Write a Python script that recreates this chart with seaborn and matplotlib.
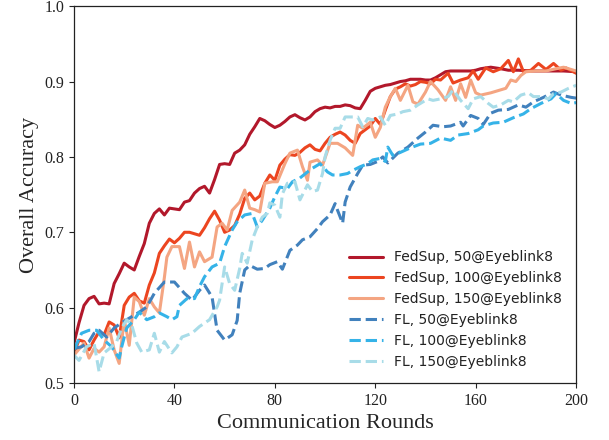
import matplotlib
matplotlib.use("Agg")
import matplotlib.pyplot as plt
import seaborn as sns
import pandas as pd

# values (round, accuracy)
fs50_rounds = [0, 2, 4, 6, 8, 10, 12, 14, 16, 18, 20, 22, 24, 26, 28, 30, 32, 34, 36, 38,
               40, 42, 44, 46, 48, 50, 52, 54, 56, 58, 60, 62, 64, 66, 68, 70, 72, 74, 76, 78,
               80, 82, 84, 86, 88, 90, 92, 94, 96, 98, 100, 102, 104, 106, 108, 110, 112, 114, 116, 118,
               120, 122, 124, 126, 128, 130, 132, 134, 136, 138, 140, 142, 144, 146, 148, 150, 155, 158, 160, 162,
               166, 170, 173, 177, 182, 188, 195, 200]
fs50_acc = [0.553, 0.580, 0.603, 0.612, 0.615, 0.605, 0.606, 0.605, 0.632, 0.645, 0.659, 0.654, 0.650, 0.668, 0.685, 0.712, 0.725, 0.731, 0.723, 0.732,
            0.731, 0.730, 0.740, 0.742, 0.752, 0.758, 0.761, 0.752, 0.770, 0.790, 0.791, 0.790, 0.805, 0.809, 0.816, 0.830, 0.840, 0.851, 0.848, 0.843,
            0.839, 0.842, 0.847, 0.853, 0.856, 0.852, 0.849, 0.853, 0.860, 0.864, 0.866, 0.865, 0.867, 0.867, 0.869, 0.868, 0.865, 0.864, 0.875, 0.887,
            0.891, 0.893, 0.895, 0.896, 0.898, 0.900, 0.901, 0.903, 0.903, 0.903, 0.902, 0.902, 0.905, 0.909, 0.913, 0.914, 0.914, 0.914, 0.915, 0.917,
            0.919, 0.917, 0.915, 0.915, 0.914, 0.914, 0.914, 0.913]

fs100_rounds = [0, 2, 4, 6, 8, 10, 12, 14, 16, 18, 20, 22, 24, 26, 28, 30, 32, 34, 36, 38,
                40, 42, 44, 46, 48, 50, 52, 54, 56, 58, 60, 62, 64, 66, 68, 70, 72, 74, 76, 78,
                80, 82, 84, 86, 88, 90, 92, 94, 96, 98, 100, 102, 104, 106, 108, 110, 112, 114, 116, 118,
                120, 122, 124, 126, 128, 130, 132, 134, 136, 138, 140, 142, 144, 146, 148, 149, 151, 154, 157, 159,
                161, 164, 167, 170, 173, 175, 177, 179, 182, 185, 188, 191, 194, 196, 200]
fs100_acc = [0.540, 0.557, 0.555, 0.544, 0.557, 0.568, 0.564, 0.581, 0.577, 0.560, 0.603, 0.614, 0.619, 0.609, 0.606, 0.630, 0.646, 0.672, 0.682, 0.691,
             0.686, 0.692, 0.700, 0.700, 0.698, 0.696, 0.706, 0.718, 0.728, 0.716, 0.700, 0.703, 0.709, 0.724, 0.745, 0.752, 0.743, 0.748, 0.765, 0.776,
             0.769, 0.789, 0.797, 0.803, 0.802, 0.806, 0.812, 0.816, 0.810, 0.808, 0.818, 0.826, 0.830, 0.833, 0.829, 0.822, 0.818, 0.831, 0.836, 0.841,
             0.851, 0.843, 0.862, 0.880, 0.890, 0.893, 0.897, 0.894, 0.896, 0.900, 0.899, 0.897, 0.903, 0.902, 0.908, 0.911, 0.898, 0.902, 0.905, 0.914,
             0.903, 0.918, 0.913, 0.917, 0.928, 0.913, 0.930, 0.913, 0.915, 0.924, 0.916, 0.924, 0.915, 0.918, 0.911]

fs150_rounds = [0, 2, 4, 6, 8, 10, 12, 14, 16, 18, 20, 22, 24, 26, 28, 30, 32, 34, 36, 37,
                39, 42, 44, 46, 48, 50, 52, 55, 57, 59, 61, 63, 66, 68, 70, 72, 74, 76, 79, 81,
                84, 86, 89, 91, 93, 94, 97, 99, 102, 105, 108, 111, 113, 115, 118, 120, 122, 124, 126, 128,
                130, 133, 135, 137, 140, 142, 145, 148, 150, 152, 154, 156, 158, 160, 162, 166, 170, 172, 174, 176,
                178, 180, 184, 188, 192, 195, 199, 200]
fs150_acc = [0.537, 0.545, 0.553, 0.533, 0.546, 0.541, 0.548, 0.573, 0.544, 0.526, 0.584, 0.550, 0.614, 0.608, 0.590, 0.612, 0.601, 0.593, 0.640, 0.667,
             0.681, 0.681, 0.652, 0.687, 0.654, 0.674, 0.661, 0.667, 0.707, 0.712, 0.703, 0.729, 0.740, 0.756, 0.732, 0.730, 0.727, 0.765, 0.767, 0.767,
             0.791, 0.805, 0.809, 0.787, 0.769, 0.793, 0.796, 0.789, 0.818, 0.818, 0.812, 0.802, 0.842, 0.838, 0.846, 0.826, 0.839, 0.866, 0.880, 0.891,
             0.875, 0.895, 0.873, 0.870, 0.886, 0.900, 0.889, 0.875, 0.893, 0.875, 0.897, 0.879, 0.902, 0.885, 0.882, 0.885, 0.889, 0.891, 0.902, 0.900,
             0.908, 0.913, 0.914, 0.914, 0.917, 0.919, 0.915, 0.914]

fl50_rounds = [0, 3, 6, 8, 10, 13, 16, 19, 22, 26, 29, 32, 36, 40, 44, 47, 50, 52, 55, 57,
               60, 63, 65, 66, 68, 70, 73, 76, 78, 81, 83, 86, 89, 91, 94, 97, 99, 102, 104, 105,
               107, 108, 110, 113, 115, 118, 121, 123, 125, 129, 133, 137, 140, 143, 147, 150, 154, 155, 158, 161,
               163, 166, 169, 173, 177, 180, 183, 187, 191, 194, 198, 200]
fl50_acc = [0.546, 0.548, 0.555, 0.566, 0.570, 0.561, 0.573, 0.580, 0.586, 0.594, 0.601, 0.619, 0.634, 0.634, 0.619, 0.610, 0.623, 0.630, 0.614, 0.570,
            0.557, 0.564, 0.583, 0.619, 0.650, 0.656, 0.651, 0.652, 0.657, 0.661, 0.651, 0.676, 0.683, 0.690, 0.694, 0.705, 0.714, 0.723, 0.738, 0.729,
            0.712, 0.740, 0.760, 0.778, 0.789, 0.790, 0.794, 0.800, 0.792, 0.805, 0.813, 0.825, 0.833, 0.842, 0.840, 0.841, 0.846, 0.841, 0.855, 0.851,
            0.843, 0.858, 0.862, 0.863, 0.869, 0.866, 0.873, 0.879, 0.886, 0.882, 0.879, 0.878]

fl100_rounds = [0, 3, 6, 9, 12, 15, 18, 19, 21, 24, 26, 29, 32, 34, 37, 39, 41, 42, 45, 48,
                50, 52, 55, 58, 60, 63, 65, 68, 71, 73, 75, 78, 80, 82, 85, 87, 90, 93, 95, 98,
                101, 103, 106, 109, 111, 114, 117, 119, 122, 124, 125, 127, 130, 134, 138, 142, 146, 150, 153, 157,
                161, 163, 167, 171, 175, 179, 182, 186, 190, 192, 195, 198, 200]
fl100_acc = [0.544, 0.566, 0.570, 0.570, 0.557, 0.548, 0.533, 0.548, 0.573, 0.584, 0.594, 0.584, 0.588, 0.593, 0.588, 0.584, 0.588, 0.603, 0.612, 0.612,
             0.628, 0.641, 0.654, 0.659, 0.681, 0.703, 0.714, 0.723, 0.725, 0.707, 0.716, 0.732, 0.747, 0.760, 0.758, 0.767, 0.772, 0.780, 0.785, 0.791,
             0.780, 0.776, 0.776, 0.778, 0.782, 0.787, 0.791, 0.796, 0.798, 0.794, 0.813, 0.802, 0.806, 0.812, 0.817, 0.818, 0.825, 0.822, 0.829, 0.831,
             0.836, 0.841, 0.845, 0.846, 0.852, 0.857, 0.864, 0.871, 0.877, 0.884, 0.875, 0.871, 0.872]

fl150_rounds = [0, 2, 5, 8, 10, 12, 15, 17, 19, 21, 23, 25, 27, 30, 32, 34, 36, 39, 41, 43,
                47, 50, 54, 57, 58, 60, 62, 64, 66, 67, 69, 71, 73, 75, 77, 78, 80, 82, 83, 85,
                88, 90, 93, 95, 97, 99, 100, 102, 104, 106, 108, 110, 113, 115, 117, 119, 122, 124, 126, 129,
                131, 134, 137, 139, 141, 143, 146, 149, 151, 154, 157, 159, 162, 165, 167, 170, 173, 175, 178, 181,
                183, 186, 189, 191, 194, 197, 200]
fl150_acc = [0.537, 0.530, 0.548, 0.553, 0.515, 0.540, 0.548, 0.555, 0.573, 0.584, 0.577, 0.553, 0.541, 0.544, 0.566, 0.541, 0.555, 0.540, 0.548, 0.561,
             0.566, 0.575, 0.584, 0.601, 0.610, 0.654, 0.632, 0.623, 0.652, 0.672, 0.659, 0.690, 0.707, 0.720, 0.725, 0.739, 0.736, 0.720, 0.751, 0.765,
             0.767, 0.743, 0.763, 0.754, 0.756, 0.778, 0.800, 0.822, 0.838, 0.838, 0.853, 0.853, 0.853, 0.840, 0.851, 0.849, 0.853, 0.842, 0.855, 0.857,
             0.860, 0.862, 0.869, 0.873, 0.877, 0.875, 0.877, 0.880, 0.889, 0.875, 0.864, 0.877, 0.880, 0.871, 0.866, 0.869, 0.875, 0.873, 0.882, 0.885,
             0.880, 0.880, 0.877, 0.884, 0.886, 0.891, 0.895]

series = [
    ("FedSup, 50@Eyeblink8", fs50_rounds, fs50_acc, "#b2182b", "-"),
    ("FedSup, 100@Eyeblink8", fs100_rounds, fs100_acc, "#ec4520", "-"),
    ("FedSup, 150@Eyeblink8", fs150_rounds, fs150_acc, "#f4a582", "-"),
    ("FL, 50@Eyeblink8", fl50_rounds, fl50_acc, "#4181bd", "--"),
    ("FL, 100@Eyeblink8", fl100_rounds, fl100_acc, "#35b3e8", "--"),
    ("FL, 150@Eyeblink8", fl150_rounds, fl150_acc, "#a8dce8", "--"),
]

sns.set_style("ticks")
plt.rcParams['font.family'] = ['Liberation Serif', 'DejaVu Serif']

fig, ax = plt.subplots(figsize=(6.09, 4.4), dpi=100)
fig.subplots_adjust(left=0.1215, right=0.946, top=0.986, bottom=0.1295)

for label, rounds, acc, color, ls in series:
    df = pd.DataFrame({"round": rounds, "acc": acc})
    sns.lineplot(data=df, x="round", y="acc", ax=ax, color=color, linestyle=ls,
                 linewidth=2.2, label=label)

ax.set_xlim(0, 200)
ax.set_ylim(0.5, 1.0)
ax.set_xticks([0, 40, 80, 120, 160, 200])
ax.set_yticks([0.5, 0.6, 0.7, 0.8, 0.9, 1.0])
ax.set_yticklabels(["0.5", "0.6", "0.7", "0.8", "0.9", "1.0"])
ax.tick_params(labelsize=11.5, length=3.5, width=0.8, colors="#222222")
ax.set_xlabel("Communication Rounds", fontsize=16)
ax.set_ylabel("Overall Accuracy", fontsize=16)
for sp in ax.spines.values():
    sp.set_linewidth(0.9)
    sp.set_color("#222222")

leg = ax.legend(loc="lower right", frameon=False, handlelength=2.5,
                prop={"family": "DejaVu Sans", "size": 10}, borderaxespad=0.6)
for t in leg.get_texts():
    t.set_color("#222222")

fig.savefig("out.png", dpi=100)
